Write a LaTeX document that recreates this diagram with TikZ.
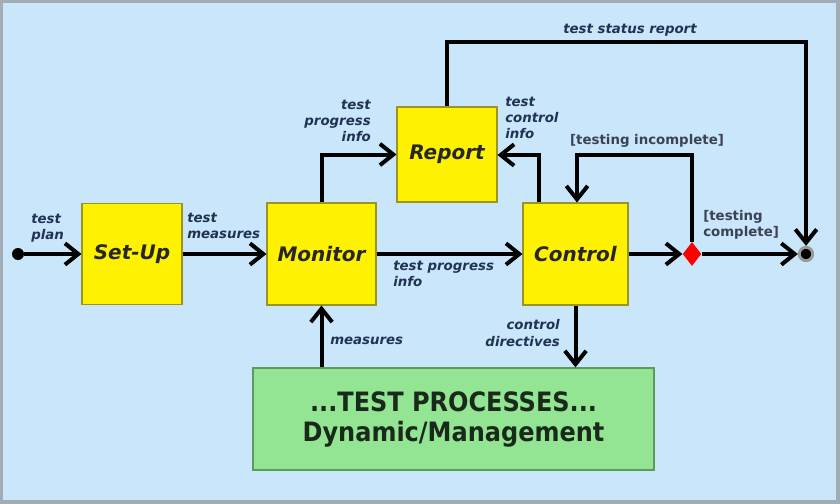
\documentclass[tikz,border=0pt]{standalone}
\usepackage{fontspec}
\setmainfont{DejaVu Sans}
\newfontfamily\condfont{DejaVu Sans Condensed}
\usetikzlibrary{arrows.meta,shapes.geometric,calc}
\definecolor{bgblue}{HTML}{C9E6FB}
\definecolor{frame}{HTML}{A3ABB3}
\definecolor{boxyellow}{HTML}{FFF200}
\definecolor{boxedge}{HTML}{9C9420}
\definecolor{boxgreen}{HTML}{93E594}
\definecolor{greenedge}{HTML}{5E9A5E}
\definecolor{lblcol}{HTML}{223252}
\definecolor{guardcol}{HTML}{3A4254}
\definecolor{proctext}{HTML}{1A2A1A}
\begin{document}
\begin{tikzpicture}[x=0.75pt,y=-0.75pt,
  box/.style={draw=boxedge,line width=0.8pt,fill=boxyellow,inner sep=0pt,
    font=\fontsize{15}{17}\selectfont\bfseries\itshape,text=black!85},
  lbl/.style={inner sep=0pt,align=left,text=lblcol,
    font=\fontsize{10}{12.3}\selectfont\bfseries\itshape},
  lblr/.style={lbl,align=right},
  guard/.style={inner sep=0pt,align=left,text=guardcol,
    font=\fontsize{10}{12.3}\selectfont\bfseries},
  arr/.style={line width=3pt,-{Straight Barb[length=10pt,width=16pt,line width=3pt]}},
  ln/.style={line width=3pt}
]
\fill[frame] (0,0) rectangle (840,504);
\fill[bgblue] (3,3) rectangle (836,500);

\node[box,minimum width=75pt,minimum height=75.75pt] (setup) at (132,254) {Set-Up};
\node[box,minimum width=81.75pt,minimum height=76.5pt] (monitor) at (321.5,254) {Monitor};
\node[box,minimum width=75pt,minimum height=71.25pt] (report) at (447,154.5) {Report};
\node[box,minimum width=78.75pt,minimum height=76.5pt] (control) at (575.5,254) {Control};
\node[draw=greenedge,line width=1pt,fill=boxgreen,minimum width=300.75pt,minimum height=76.5pt,
  align=center,inner sep=0pt,text=proctext,
  font=\condfont\fontsize{20}{22.5}\selectfont\bfseries] (proc) at (453.5,419)
  {...TEST PROCESSES...\\Dynamic/Management};

\node[circle,fill=black,inner sep=0pt,minimum size=9pt] (start) at (18,254) {};
\node[diamond,fill=red,inner sep=0pt,minimum width=14pt,minimum height=18pt] (dec) at (692,254) {};
\node[circle,fill=black,draw=black!40,line width=2.2pt,inner sep=0pt,minimum size=10pt] (end) at (806,254) {};

\coordinate (tsr) at (806,42);
\coordinate (inc) at (577,155);
\coordinate (cri) at (539,155);

\draw[arr] (start) -- (setup);
\draw[arr] (setup) -- (monitor);
\draw[arr] (monitor) -- (control);
\draw[arr] (control) -- (dec);
\draw[arr] (dec) -- (end);
\draw[arr] (monitor.north) |- (report.west);
\draw[arr] (control.north -| cri) -- (cri) -- (report.east |- cri);
\draw[arr] (dec.north) |- (inc) -- (control.north -| inc);
\draw[arr] (report.north) |- (tsr) -- (end.north);
\draw[arr] (proc.north -| monitor) -- (monitor.south);
\draw[arr] (control.south) -- (control.south |- proc.north);

\node[lbl,anchor=west] (l1) at (31,228) {test\\plan};
\node[lbl,anchor=west] (l2) at (187,226) {test\\measures};
\node[lblr,anchor=east] (l3) at (371,121) {test\\progress\\info};
\node[lbl,anchor=west] (l4) at (505,118) {test\\control\\info};
\node[lbl] (l5) at (630,30) {test status report};
\node[guard] (l6) at (647,141) {[testing incomplete]};
\node[guard,anchor=west] (l7) at (703,225) {[testing\\complete]};
\node[lbl,anchor=west] (l8) at (393,274) {test progress\\info};
\node[lbl,anchor=west] (l9) at (330,341) {measures};
\node[lblr,anchor=east] (l10) at (560,333) {control\\directives};
\end{tikzpicture}
\end{document}
